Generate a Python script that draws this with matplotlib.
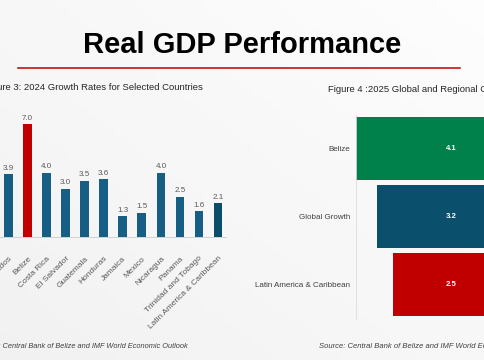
import numpy as np
import matplotlib.pyplot as plt

plt.rcParams['font.family'] = ['Liberation Sans', 'DejaVu Sans']

# Figure 3 data
countries = ["Barbados", "Belize", "Costa Rica", "El Salvador", "Guatemala", "Honduras",
             "Jamaica", "Mexico", "Nicaragua", "Panama", "Trinidad and Tobago",
             "Latin America & Caribbean"]
growth_2024 = [3.9, 7.0, 4.0, 3.0, 3.5, 3.6, 1.3, 1.5, 4.0, 2.5, 1.6, 2.1]

# Figure 4 data
regions = ["Belize", "Global Growth", "Latin America & Caribbean"]
growth_2025 = [4.1, 3.2, 2.5]

W, H = 485, 360
fig = plt.figure(figsize=(W / 100, H / 100), dpi=100)
fig.patch.set_facecolor("#eef0f2")

# subtle background shading
bg = fig.add_axes([0, 0, 1, 1], zorder=-10)
gx, gy = np.meshgrid(np.linspace(0, 1, 50), np.linspace(0, 1, 50))
shade = 0.5 * gx + 0.5 * gy
bg.imshow(shade, cmap="Greys_r", vmin=-9, vmax=1.15, extent=[0, 1, 0, 1],
          aspect="auto", origin="lower")
bg.axis("off")


def fx(px):
    return px / W


def fy(py):
    return 1 - py / H


# header
fig.text(0.5, fy(45), "Real GDP Performance", ha="center", va="center",
         fontsize=21, fontweight="bold", color="black")
fig.add_artist(plt.Line2D([fx(18), fx(460)], [fy(68), fy(68)], color="#c00000", lw=1.1))

# ---- Figure 3 ----
ax1 = fig.add_axes([0, fy(237), fx(226), (237 - 108) / H])
ax1.patch.set_alpha(0)
x = np.arange(len(countries))
colors1 = ["#165e83"] * len(countries)
colors1[1] = "#c00000"
colors1[-1] = "#0c4d68"
bars = ax1.bar(x, growth_2024, width=0.46, color=colors1)
for b, v in zip(bars, growth_2024):
    ax1.text(b.get_x() + b.get_width() / 2, v + 0.15, f"{v:.1f}", ha="center", va="bottom",
             fontsize=5.8, color="#595959")
ax1.set_xlim(-0.45, 11.42)
ax1.set_ylim(0, 8)
ax1.set_xticks(x)
ax1.set_xticklabels(countries, rotation=45, ha="right", rotation_mode="anchor",
                    fontsize=6.0, color="#595959")
ax1.tick_params(axis="x", length=0, pad=13)
ax1.set_yticks([])
for s in ["left", "right", "top"]:
    ax1.spines[s].set_visible(False)
ax1.spines["bottom"].set_color("#d0d0d0")
ax1.spines["bottom"].set_linewidth(0.7)

fig.text(fx(203), fy(87), "Figure 3: 2024 Growth Rates for Selected Countries",
         ha="right", va="center", fontsize=6.8, color="#262626")
fig.text(fx(188), fy(347), "Source: Central Bank of Belize and IMF World Economic Outlook",
         ha="right", va="center", fontsize=5.3, style="italic", color="#404040")

# ---- Figure 4 (funnel) ----
ax2 = fig.add_axes([fx(356), fy(318.5), fx(560 - 356), 204 / H])
ax2.patch.set_alpha(0)
y = np.arange(len(regions))
colors2 = ["#00804b", "#0a4f6b", "#c00000"]
vals = np.array(growth_2025)
ax2.barh(y, vals, left=-vals / 2, height=0.94, color=colors2)
for yi, v in zip(y, vals):
    ax2.text(0, yi, f"{v:.1f}", ha="center", va="center", fontsize=5.6,
             fontweight="bold", color="white")
ax2.set_xlim(-2.05, 2.33)
ax2.set_ylim(2.5, -0.5)
ax2.set_yticks(y)
ax2.set_yticklabels(regions, fontsize=5.75, color="#404040")
ax2.tick_params(axis="y", length=0, pad=4)
ax2.set_xticks([])
for s in ["right", "top", "bottom"]:
    ax2.spines[s].set_visible(False)
ax2.spines["left"].set_color("#dcdcdc")
ax2.spines["left"].set_linewidth(0.6)

fig.text(fx(328), fy(90), "Figure 4 :2025 Global and Regional Growth Rates",
         ha="left", va="center", fontsize=6.8, color="#262626")
fig.text(fx(319), fy(346), "Source: Central Bank of Belize and IMF World Economic Outlook",
         ha="left", va="center", fontsize=5.5, style="italic", color="#404040")

fig.savefig("out.png", dpi=100, facecolor=fig.get_facecolor())
